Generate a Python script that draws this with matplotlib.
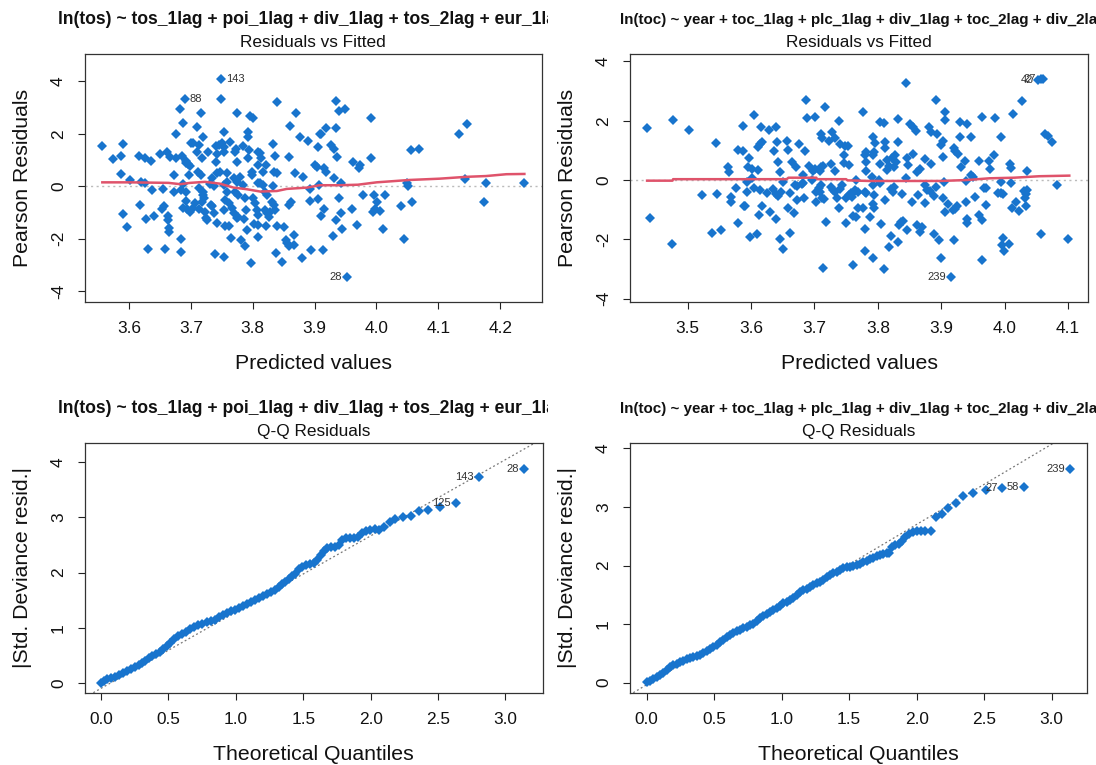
import numpy as np
import matplotlib
matplotlib.use('Agg')
import matplotlib.pyplot as plt
from matplotlib.transforms import Bbox, TransformedBbox

plt.rcParams['font.family'] = ['Liberation Sans', 'DejaVu Sans']

# ---- data ----
# top left: Residuals vs Fitted, ln(tos) model
tl_fit = [3.556, 3.574, 3.587, 3.591, 3.587, 3.601, 3.590, 3.597, 3.617, 3.626, 3.636, 3.619, 3.626, 3.638,
          3.618, 3.628, 3.640, 3.631, 3.650, 3.662, 3.667, 3.676, 3.685, 3.673, 3.655, 3.653, 3.656, 3.663,
          3.663, 3.664, 3.664, 3.658, 3.676, 3.682, 3.688, 3.690, 3.693, 3.696, 3.699, 3.692, 3.697, 3.688,
          3.693, 3.684, 3.673, 3.692, 3.688, 3.694, 3.698, 3.684, 3.684, 3.701, 3.703, 3.710, 3.714, 3.710,
          3.717, 3.719, 3.727, 3.718, 3.712, 3.717, 3.714, 3.719, 3.720, 3.721, 3.718, 3.707, 3.704, 3.713,
          3.723, 3.724, 3.726, 3.731, 3.734, 3.738, 3.732, 3.735, 3.738, 3.742, 3.739, 3.742, 3.741, 3.746,
          3.741, 3.747, 3.742, 3.749, 3.749, 3.753, 3.754, 3.753, 3.750, 3.758, 3.758, 3.753, 3.758, 3.755,
          3.761, 3.753, 3.756, 3.761, 3.765, 3.753, 3.764, 3.774, 3.772, 3.773, 3.775, 3.770, 3.774, 3.780,
          3.771, 3.777, 3.767, 3.770, 3.774, 3.777, 3.785, 3.792, 3.792, 3.794, 3.793, 3.785, 3.787, 3.789,
          3.786, 3.791, 3.781, 3.787, 3.796, 3.801, 3.799, 3.799, 3.801, 3.804, 3.808, 3.812, 3.814, 3.808,
          3.809, 3.812, 3.807, 3.809, 3.802, 3.809, 3.808, 3.797, 3.817, 3.821, 3.816, 3.820, 3.823, 3.820,
          3.823, 3.826, 3.821, 3.832, 3.836, 3.834, 3.839, 3.833, 3.831, 3.834, 3.828, 3.836, 3.839, 3.837,
          3.847, 3.839, 3.850, 3.853, 3.856, 3.859, 3.866, 3.866, 3.858, 3.860, 3.869, 3.870, 3.862, 3.859,
          3.877, 3.879, 3.882, 3.890, 3.893, 3.895, 3.900, 3.904, 3.905, 3.908, 3.905, 3.907, 3.893,
          3.935, 3.940, 3.949, 3.919, 3.935, 3.911, 3.927, 3.931, 3.937, 3.991, 3.991, 3.962, 3.972, 3.974,
          3.916, 3.919, 3.931, 3.942, 3.939, 3.916, 3.910, 3.935, 3.942, 3.944, 3.930, 3.960, 3.969, 3.978,
          3.996, 4.001, 3.998, 3.995, 4.006, 4.013, 4.011, 3.913, 3.952, 4.040, 4.049, 4.051, 4.057, 4.045,
          4.056, 4.068, 4.133, 4.146, 4.143, 4.173, 4.177, 4.238]
tl_res = [1.54, 1.05, 1.16, 1.61, 0.48, 0.23, -1.04, -1.54, 1.17, 1.07, 0.97, 0.15, 0.11, -0.15,
          -0.70, -1.24, -1.13, -2.39, 1.23, 1.32, 1.12, 1.07, 1.17, 0.44, -0.11, -0.85, -0.75, -1.14,
          -1.27, -1.60, -1.74, -2.39, 1.99, 2.93, 2.41, 3.34, 0.97, 0.84, 0.76, 0.90, 0.43, 0.09,
          -0.20, -0.15, -0.20, -0.56, -0.84, -0.88, -0.97, -2.01, -2.51, 1.66, 1.64, 2.26, 1.56, 1.32,
          2.79, 1.88, 1.32, 1.07, 0.56, 0.43, -0.08, -0.20, -0.33, -0.46, -0.58, -0.65, -0.84, -0.86,
          -0.99, -1.22, -1.28, 0.10, 0.30, 0.01, -0.71, -0.77, -1.03, -1.41, -2.59, 1.22, 1.55, 1.57,
          0.91, 0.56, 0.50, 4.10, 3.34, 2.07, 1.51, 1.30, 1.64, 0.50, 0.18, 0.05, -0.20, -0.52,
          -0.65, -0.90, -1.50, -1.50, -1.98, -2.68, 1.70, 2.78, 1.32, 1.41, 0.91, 0.30, 0.18, 0.37,
          -0.20, -0.33, -0.84, -1.03, -1.22, -1.16, 1.55, 2.08, 1.89, 1.40, 1.07, 0.05, -0.46, -0.90,
          -1.24, -1.66, -2.06, -2.26, 2.68, 2.59, 0.56, 0.43, -0.46, -0.65, 1.32, 1.26, 1.07, 0.81,
          0.11, 0.11, -0.90, -1.09, -1.45, -1.47, -1.92, -2.93, 0.56, 0.81, 0.05, -0.20, -0.33, -0.90,
          -1.03, -1.16, -1.51, 1.61, 1.14, 0.56, 0.50, 0.00, -0.58, -0.71, -0.97, -0.90, -1.50, -2.55,
          -2.88, 3.21, -1.54, -2.04, -2.17, -2.26, -1.85, -2.23, 1.10, 2.29, 0.50, 2.79, -0.58, -0.71,
          1.88, -2.74, 0.37, 1.73, -0.57, -2.41, 0.81, 0.75, 1.50, 1.99, -0.48, 0.05, -0.11,
          3.24, 2.88, 2.93, 2.22, 2.22, 2.01, 1.59, 1.42, 1.12, 2.60, 1.08, 0.91, 0.70, 0.83,
          0.70, 0.53, 0.32, 0.13, -0.44, -0.86, -1.12, -1.27, -1.03, -1.61, -1.90, -0.85, -1.49, -0.32,
          -0.32, -0.60, -0.85, -0.98, -0.95, -0.32, -1.61, -2.41, -3.47, -0.74, 0.13, 0.00, -0.60, -1.99,
          1.37, 1.41, 2.01, 2.39, 0.28, -0.60, 0.13, 0.13]
tl_smooth_x = [3.557, 3.602, 3.664, 3.683, 3.699, 3.723, 3.747, 3.769, 3.790, 3.812, 3.839, 3.855, 3.888,
               3.908, 3.940, 3.970, 4.000, 4.053, 4.102, 4.145, 4.177, 4.210, 4.239]
tl_smooth_y = [0.15, 0.15, 0.13, 0.08, 0.13, 0.17, 0.10, -0.05, -0.11, -0.20, -0.18, -0.10, -0.05,
               0.04, 0.04, 0.06, 0.15, 0.24, 0.29, 0.36, 0.39, 0.46, 0.47]
tl_labels = [('143', 3.749, 4.10, 'r'), ('88', 3.690, 3.34, 'r'), ('28', 3.952, -3.47, 'l')]

# top right: Residuals vs Fitted, ln(toc) model
tr_fit = [3.436, 3.440, 3.477, 3.476, 3.502, 3.523, 3.544, 3.546, 3.539, 3.552, 3.564, 3.565, 3.569, 3.568,
          3.576, 3.580, 3.587, 3.587, 3.580, 3.589, 3.591, 3.594, 3.597, 3.595, 3.601, 3.611, 3.601, 3.594,
          3.604, 3.598, 3.609, 3.605, 3.615, 3.611, 3.614, 3.617, 3.613, 3.617, 3.614, 3.625, 3.629, 3.639,
          3.630, 3.634, 3.636, 3.641, 3.643, 3.646, 3.639, 3.643, 3.647, 3.640, 3.645, 3.650, 3.650, 3.657,
          3.659, 3.664, 3.661, 3.659, 3.662, 3.667, 3.671, 3.670, 3.672, 3.672, 3.676, 3.685, 3.682, 3.682,
          3.681, 3.683, 3.687, 3.688, 3.701, 3.692, 3.697, 3.701, 3.696, 3.702, 3.703, 3.711, 3.712, 3.716,
          3.708, 3.711, 3.713, 3.707, 3.709, 3.711, 3.712, 3.715, 3.718, 3.714, 3.723, 3.727, 3.726, 3.726,
          3.729, 3.732, 3.732, 3.735, 3.733, 3.738, 3.739, 3.740, 3.743, 3.741, 3.748, 3.753, 3.746, 3.754,
          3.747, 3.750, 3.754, 3.757, 3.760, 3.762, 3.749, 3.761, 3.765, 3.761, 3.765, 3.768, 3.764, 3.768,
          3.777, 3.779, 3.782, 3.781, 3.781, 3.779, 3.782, 3.776, 3.780, 3.780, 3.792, 3.796, 3.792, 3.794,
          3.792, 3.790, 3.792, 3.794, 3.792, 3.794, 3.787, 3.804, 3.810, 3.803, 3.802, 3.804, 3.812, 3.811,
          3.814, 3.817, 3.814, 3.805, 3.812, 3.821, 3.817, 3.810, 3.821, 3.824, 3.826, 3.823, 3.827, 3.829,
          3.826, 3.831, 3.831, 3.831, 3.834, 3.837, 3.839, 3.838, 3.845, 3.846, 3.844, 3.847, 3.846, 3.851,
          3.856, 3.860, 3.855, 3.854, 3.862, 3.866, 3.864, 3.861, 3.866, 3.869, 3.875, 3.875, 3.877, 3.882,
          3.880, 3.884, 3.894, 3.884, 3.875, 3.889, 3.896, 3.892, 3.891, 3.888, 3.900, 3.903, 3.903, 3.902,
          3.900, 3.906, 3.906, 3.905, 3.910, 3.906, 3.915, 3.918, 3.922, 3.925, 3.920, 3.920, 3.922, 3.926,
          3.930, 3.941, 3.930, 3.931, 3.937, 3.939, 3.939, 3.941, 3.940, 3.947, 3.947, 3.950, 3.953, 3.959,
          3.959, 3.965, 3.964, 3.964, 3.967, 3.971, 3.970, 3.975, 3.977, 3.985, 3.984, 3.990, 3.994, 3.997,
          3.995, 3.994, 3.997, 3.996, 3.999, 4.007, 4.008, 4.010, 4.010, 4.011, 4.013, 4.018, 4.023, 4.027,
          4.031, 4.033, 4.036, 4.032, 4.034, 4.035, 4.053, 4.057, 4.061, 4.058, 4.064, 4.069, 4.075, 4.083,
          4.100]
tr_res = [1.77, -1.27, 2.04, -2.17, 1.70, -0.49, 1.26, -0.46, -1.77, -1.69, 0.44, 0.28, -0.56, -0.75,
          -0.28, 1.03, 0.99, 1.82, -1.46, -0.87, -0.88, -0.39, 0.73, 0.44, 0.39, 0.33, 0.08, -0.06,
          -0.28, -1.92, -1.81, 2.19, 1.79, 1.12, 1.23, 1.30, -1.17, -0.88, -0.35, -0.42, 1.70, 1.78,
          -1.09, -0.30, 0.99, 1.28, 0.62, 0.28, -0.48, -0.54, -0.39, -1.32, -1.99, -2.32, -0.08, 1.33,
          1.00, 0.62, -0.45, -0.93, -1.78, -1.12, 0.44, -0.17, -0.20, -0.67, 1.21, 0.98, 0.18, -0.09,
          -0.13, -0.62, 2.71, 2.08, 2.14, 0.46, 0.31, 0.39, -0.01, -0.39, -0.73, 1.57, 1.41, 2.47,
          0.30, 0.44, 0.47, -0.28, -0.39, -0.15, -0.60, -0.64, -1.42, -2.96, 1.33, 1.63, 0.55, -0.22,
          -0.34, -0.39, 0.30, -0.62, 1.41, 1.99, -0.93, -0.30, -0.17, 1.21, 1.15, 1.16, 0.58, 0.51,
          0.84, -0.62, -0.51, -0.45, -0.56, -0.39, -1.46, -1.21, -1.25, -2.87, 0.00, -0.93, -0.34, -0.39,
          2.31, 0.84, 0.96, 0.62, 0.30, -0.39, -0.45, -0.93, -1.64, -2.40, 1.46, 1.24, -2.61, 0.96,
          0.84, 0.11, -0.17, -0.51, -0.82, -0.93, -1.24, 1.97, 1.91, 0.53, 0.00, -0.11, 1.29, 1.07,
          0.67, 0.47, 0.34, -1.47, -0.67, -1.88, -2.27, -2.99, -0.30, -0.39, -0.22, 0.73, 0.84, 0.60,
          0.45, 2.06, 1.29, -2.09, -1.52, -1.41, -1.38, -0.48, 3.26, 0.75, 0.06, 0.51, -1.69, 1.89,
          1.80, 1.65, 0.87, -0.73, 0.28, 0.39, -0.51, -1.52, -1.74, -1.57, 0.70, -0.15, -0.34, -0.37,
          1.80, 1.63, 1.54, 0.53, -0.76, -1.83, -2.02, 2.70, -0.22, -0.54, 1.18, 1.33, 0.79, -0.62,
          -2.61, 2.31, 2.02, -0.06, -0.82, -1.07, -3.28, -1.01, -0.96, -0.88, -2.02, 1.07, 0.98, 0.87,
          1.97, 1.89, 1.44, 0.43, 0.65, -0.03, -0.75, -1.32, -1.46, 1.44, 0.17, 0.11, -0.58, 0.65,
          -1.18, -1.35, 2.11, -2.70, -0.26, -0.28, -0.84, 0.65, 0.37, 2.08, 0.84, -0.43, -0.45, -0.47,
          1.44, -0.06, -1.95, -2.19, -2.38, -2.17, 0.55, 0.42, -0.11, -0.93, 2.23, -0.73, -1.05, 2.68,
          -0.37, -0.47, -0.34, -0.62, -0.87, 0.31, 3.37, 3.41, 3.41, -1.83, 1.54, 1.50, 1.29, -0.15,
          -1.99]
tr_smooth_x = [3.436, 3.476, 3.477, 3.656, 3.659, 3.703, 3.704, 3.750, 3.752, 3.787, 3.898, 3.939, 3.976,
               4.015, 4.055, 4.102]
tr_smooth_y = [-0.02, -0.02, 0.03, 0.03, 0.08, 0.08, 0.03, 0.03, -0.01, -0.03, -0.03, 0.00, 0.06,
               0.08, 0.13, 0.15]
tr_labels = [('239', 3.915, -3.28, 'l'), ('42', 4.053, 3.37, 'l'), ('27', 4.057, 3.41, 'l')]

# bottom left: half-normal Q-Q, ln(tos) model
bl_q = [0.000, 0.022, 0.047, 0.072, 0.101, 0.131, 0.161, 0.190, 0.220, 0.250, 0.279, 0.304, 0.329, 0.354,
        0.378, 0.408, 0.438, 0.463, 0.487, 0.512, 0.542, 0.571, 0.601, 0.631, 0.660, 0.690, 0.720, 0.749,
        0.784, 0.814, 0.843, 0.873, 0.903, 0.932, 0.962, 0.992, 1.022, 1.051, 1.081, 1.111, 1.140, 1.170,
        1.200, 1.229, 1.259, 1.289, 1.318, 1.343, 1.368, 1.393, 1.417, 1.442, 1.467, 1.492, 1.521, 1.551,
        1.581, 1.605, 1.630, 1.655, 1.679, 1.709, 1.739, 1.768, 1.788, 1.818, 1.848, 1.877, 1.907, 1.937,
        1.966, 1.996, 2.031, 2.065, 2.100, 2.144, 2.184, 2.238, 2.300, 2.360, 2.429, 2.515, 2.634, 2.805,
        3.141]
bl_r = [0.000, 0.030, 0.060, 0.085, 0.109, 0.133, 0.169, 0.212, 0.248, 0.284, 0.315, 0.351, 0.393, 0.442,
        0.484, 0.514, 0.551, 0.605, 0.665, 0.726, 0.792, 0.841, 0.877, 0.926, 0.968, 1.016, 1.053, 1.071,
        1.095, 1.119, 1.143, 1.186, 1.222, 1.258, 1.295, 1.325, 1.355, 1.385, 1.422, 1.458, 1.494, 1.531,
        1.573, 1.615, 1.646, 1.688, 1.736, 1.785, 1.833, 1.887, 1.936, 1.978, 2.057, 2.105, 2.129, 2.154,
        2.178, 2.226, 2.311, 2.396, 2.444, 2.456, 2.468, 2.492, 2.595, 2.626, 2.632, 2.632, 2.638, 2.722,
        2.747, 2.765, 2.783, 2.771, 2.831, 2.916, 2.976, 3.013, 3.031, 3.116, 3.134, 3.182, 3.255, 3.739,
        3.878]
bl_line = (-0.101, 1.383)
bl_labels = [('125', 2.634, 3.255, 'l'), ('143', 2.805, 3.739, 'l'), ('28', 3.141, 3.878, 'l')]

# bottom right: half-normal Q-Q, ln(toc) model
br_q = [0.000, 0.025, 0.049, 0.074, 0.099, 0.123, 0.148, 0.173, 0.198, 0.222, 0.247, 0.272, 0.296, 0.321,
        0.346, 0.370, 0.395, 0.420, 0.444, 0.469, 0.494, 0.519, 0.543, 0.568, 0.593, 0.617, 0.642, 0.667,
        0.691, 0.716, 0.741, 0.765, 0.790, 0.815, 0.840, 0.864, 0.889, 0.914, 0.938, 0.963, 0.988, 1.012,
        1.037, 1.062, 1.086, 1.111, 1.136, 1.160, 1.185, 1.210, 1.235, 1.259, 1.284, 1.309, 1.333, 1.358,
        1.383, 1.407, 1.432, 1.457, 1.481, 1.506, 1.531, 1.556, 1.580, 1.605, 1.630, 1.654, 1.679, 1.704,
        1.728, 1.753, 1.778, 1.798, 1.817, 1.842, 1.867, 1.891, 1.916, 1.941, 1.970, 2.000, 2.030, 2.064,
        2.104, 2.143, 2.185, 2.235, 2.291, 2.346, 2.420, 2.514, 2.635, 2.795, 3.136]
br_r = [0.017, 0.034, 0.057, 0.091, 0.131, 0.171, 0.216, 0.262, 0.296, 0.324, 0.347, 0.370, 0.398, 0.421,
        0.438, 0.455, 0.478, 0.512, 0.546, 0.580, 0.614, 0.649, 0.688, 0.734, 0.774, 0.808, 0.842, 0.876,
        0.905, 0.927, 0.950, 0.979, 1.007, 1.053, 1.098, 1.138, 1.172, 1.206, 1.235, 1.269, 1.314, 1.354,
        1.383, 1.411, 1.451, 1.496, 1.542, 1.582, 1.605, 1.627, 1.661, 1.696, 1.724, 1.752, 1.798, 1.838,
        1.866, 1.895, 1.923, 1.952, 1.969, 1.980, 1.991, 2.003, 2.031, 2.054, 2.083, 2.105, 2.134, 2.162,
        2.179, 2.196, 2.213, 2.219, 2.321, 2.344, 2.367, 2.412, 2.492, 2.538, 2.572, 2.583, 2.583, 2.589,
        2.589, 2.834, 2.879, 2.976, 3.062, 3.187, 3.232, 3.289, 3.317, 3.346, 3.647]
br_line = (-0.035, 1.368)
br_labels = [('27', 2.635, 3.317, 'l'), ('58', 2.795, 3.346, 'l'), ('239', 3.136, 3.647, 'l')]

title_tos = 'ln(tos) ~ tos_1lag + poi_1lag + div_1lag + tos_2lag + eur_1lag'
title_toc = 'ln(toc) ~ year + toc_1lag + plc_1lag + div_1lag + toc_2lag + div_2lag'

# ---- drawing ----
W, H = 1096, 765
fig = plt.figure(figsize=(W / 100, H / 100), dpi=100)
PT = 72 / 100  # px -> pt
BLUE = '#1874CD'


def px_axes(x0, y0, x1, y1):
    return fig.add_axes([x0 / W, 1 - y1 / H, (x1 - x0) / W, (y1 - y0) / H])


def panel(box, xlim, ylim, xticks, yticks, xfmt, title, tsize, tx, sub, xlab, ylab, clip):
    x0, y0, x1, y1 = box
    ax = px_axes(x0, y0, x1, y1)
    ax.set_xlim(xlim)
    ax.set_ylim(ylim)
    ax.set_xticks(xticks)
    ax.set_xticklabels([xfmt.format(v) for v in xticks])
    ax.set_yticks(yticks)
    ax.set_yticklabels(['{0:g}'.format(v) for v in yticks], rotation=90, va='center')
    ax.tick_params(direction='out', length=7 * PT, width=0.8, color='#222',
                   labelsize=12.4, labelcolor='#111', pad=12 * PT)
    for s in ax.spines.values():
        s.set_color('#333')
        s.set_linewidth(0.9)
    cx = (x0 + x1) / 2
    t = fig.text(tx / W, 1 - (y0 - 30) / H, title, fontsize=tsize, fontweight='bold',
                 ha='left', va='baseline', color='#111')
    t.set_clip_box(TransformedBbox(Bbox(clip), fig.transFigure))
    t.set_clip_on(True)
    fig.text(cx / W, 1 - (y0 - 7) / H, sub, fontsize=12.4, ha='center', va='baseline', color='#111')
    fig.text(cx / W, 1 - (y1 + 67) / H, xlab, fontsize=15.3, ha='center', va='baseline', color='#111')
    fig.text((x0 - 56.7) / W, 1 - ((y0 + y1) / 2) / H, ylab, fontsize=15.3, rotation=90,
             rotation_mode='anchor', ha='center', va='baseline', color='#111')
    return ax


def put_labels(ax, labels):
    for txt, x, y, side in labels:
        off = 5 * PT if side == 'r' else -5 * PT
        ax.annotate(txt, (x, y), xytext=(off, 0), textcoords='offset points', fontsize=8,
                    ha='left' if side == 'r' else 'right', va='center', color='#333')


# top left
ax = panel((85, 54, 541.7, 302.3), (3.529, 4.267), (-4.42, 5.04), [3.6, 3.7, 3.8, 3.9, 4.0, 4.1, 4.2],
           [-4, -2, 0, 2, 4], '{0:.1f}', title_tos, 12.62, 58.0, 'Residuals vs Fitted',
           'Predicted values', 'Pearson Residuals', [[0, 0], [0.5, 1]])
ax.axhline(0, color='#BBBBBB', lw=1, ls=(0, (1.5, 2.5)), zorder=1)
ax.plot(tl_fit, tl_res, 'D', color=BLUE, ms=4.6, mew=0, zorder=2)
ax.plot(tl_smooth_x, tl_smooth_y, color='#DF536B', lw=1.8, zorder=3)
put_labels(ax, tl_labels)

# top right
ax = panel((630, 54, 1088.3, 302.3), (3.409, 4.132), (-4.12, 4.25), [3.5, 3.6, 3.7, 3.8, 3.9, 4.0, 4.1],
           [-4, -2, 0, 2, 4], '{0:.1f}', title_toc, 10.9, 620.5, 'Residuals vs Fitted',
           'Predicted values', 'Pearson Residuals', [[0.5, 0], [1, 1]])
ax.axhline(0, color='#BBBBBB', lw=1, ls=(0, (1.5, 2.5)), zorder=1)
ax.plot(tr_fit, tr_res, 'D', color=BLUE, ms=4.6, mew=0, zorder=2)
ax.plot(tr_smooth_x, tr_smooth_y, color='#DF536B', lw=1.8, zorder=3)
put_labels(ax, tr_labels)

# bottom left
ax = panel((85, 443.3, 542.7, 692.7), (-0.119, 3.277), (-0.18, 4.345), [0, 0.5, 1, 1.5, 2, 2.5, 3],
           [0, 1, 2, 3, 4], '{0:.1f}', title_tos, 12.62, 58.0, 'Q-Q Residuals',
           'Theoretical Quantiles', '|Std. Deviance resid.|', [[0, 0], [0.5, 1]])
ax.axline((0, bl_line[0]), slope=bl_line[1], color='#777777', lw=0.9, ls=(0, (1.5, 2)), zorder=1)
ax.plot(bl_q, bl_r, 'D', color=BLUE, ms=4.8, mew=0, zorder=2)
put_labels(ax, bl_labels)

# bottom right
ax = panel((630, 443.3, 1087.3, 692.7), (-0.123, 3.264), (-0.17, 4.085), [0, 0.5, 1, 1.5, 2, 2.5, 3],
           [0, 1, 2, 3, 4], '{0:.1f}', title_toc, 10.9, 620.5, 'Q-Q Residuals',
           'Theoretical Quantiles', '|Std. Deviance resid.|', [[0.5, 0], [1, 1]])
ax.axline((0, br_line[0]), slope=br_line[1], color='#777777', lw=0.9, ls=(0, (1.5, 2)), zorder=1)
ax.plot(br_q, br_r, 'D', color=BLUE, ms=4.8, mew=0, zorder=2)
put_labels(ax, br_labels)

fig.savefig('out.png', dpi=100)
